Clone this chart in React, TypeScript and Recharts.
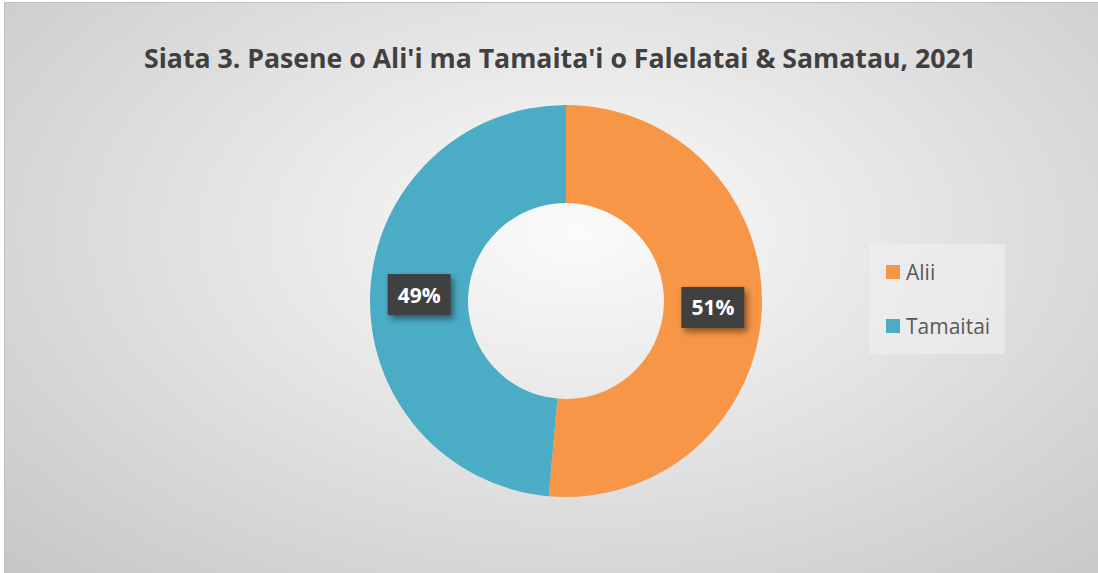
import React from 'react';
import { PieChart, Pie, Cell } from 'recharts';

const categories = ['Alii', 'Tamaitai'];
const values = [51.4, 48.6];
const colors = ['#F79646', '#4BACC6'];
const title = "Siata 3. Pasene o Ali'i ma Tamaita'i o Falelatai & Samatau, 2021";

const data = categories.map((name, i) => ({ name, value: values[i] }));

const FONT = '"Open Sans", "Noto Sans", sans-serif';
const RAD = Math.PI / 180;

const renderLabel = (props: any) => {
  const { cx, cy, midAngle, innerRadius, outerRadius, percent, index } = props;
  const r = (innerRadius + outerRadius) / 2;
  const x = cx + r * Math.cos(-midAngle * RAD);
  const y = cy + r * Math.sin(-midAngle * RAD);
  const w = 63;
  const h = 41;
  return (
    <g key={`lbl-${index}`}>
      <defs>
        <filter id={`sh-${index}`} x="-30%" y="-30%" width="160%" height="170%">
          <feDropShadow dx="3" dy="4" stdDeviation="3" floodColor="#000" floodOpacity="0.45" />
        </filter>
      </defs>
      <rect x={x - w / 2} y={y - h / 2} width={w} height={h} fill="#404040" filter={`url(#sh-${index})`} />
      <text
        x={x}
        y={y + 8}
        textAnchor="middle"
        fill="#ffffff"
        fontFamily={FONT}
        fontWeight={700}
        fontSize={21}
      >
        {`${Math.round(percent * 100)}%`}
      </text>
    </g>
  );
};

export default function App() {
  return (
    <div
      style={{
        position: 'absolute',
        left: 4,
        top: 2,
        width: 1100,
        height: 575,
        borderLeft: '1px solid #bfbfbf',
        borderTop: '1px solid #bfbfbf',
        background: 'radial-gradient(ellipse farthest-corner at 52% 40%, #fbfbfb 0%, #e6e6e6 40%, #c6c6c6 100%)',
        overflow: 'hidden',
      }}
    >
      <svg width={1100} height={80} style={{ position: 'absolute', left: 0, top: 0 }}>
        <text
          x={555}
          y={65}
          textAnchor="middle"
          fill="#404040"
          fontFamily={FONT}
          fontWeight={700}
          fontSize={26}
          textLength={832}
          lengthAdjust="spacingAndGlyphs"
        >
          {title}
        </text>
      </svg>
      <div style={{ position: 'absolute', left: 0, top: 0 }}>
        <PieChart width={1094} height={571}>
          <Pie
            data={data}
            dataKey="value"
            nameKey="name"
            cx={556}
            cy={293}
            innerRadius={98}
            outerRadius={196}
            startAngle={90}
            endAngle={-270}
            stroke="none"
            isAnimationActive={false}
            label={renderLabel}
            labelLine={false}
          >
            {data.map((d, i) => (
              <Cell key={d.name} fill={colors[i]} />
            ))}
          </Pie>
        </PieChart>
      </div>
      <div
        style={{
          position: 'absolute',
          left: 864,
          top: 241,
          width: 136,
          height: 110,
          background: 'rgba(240,240,240,0.6)',
          fontFamily: FONT,
          fontSize: 21,
          color: '#595959',
        }}
      >
        {categories.map((c, i) => (
          <div
            key={c}
            style={{
              position: 'absolute',
              left: 17,
              top: i === 0 ? 10 : 64,
              display: 'flex',
              alignItems: 'center',
              height: 36,
            }}
          >
            <span style={{ display: 'inline-block', width: 14, height: 14, background: colors[i], marginRight: 6 }} />
            <span>{c}</span>
          </div>
        ))}
      </div>
    </div>
  );
}
